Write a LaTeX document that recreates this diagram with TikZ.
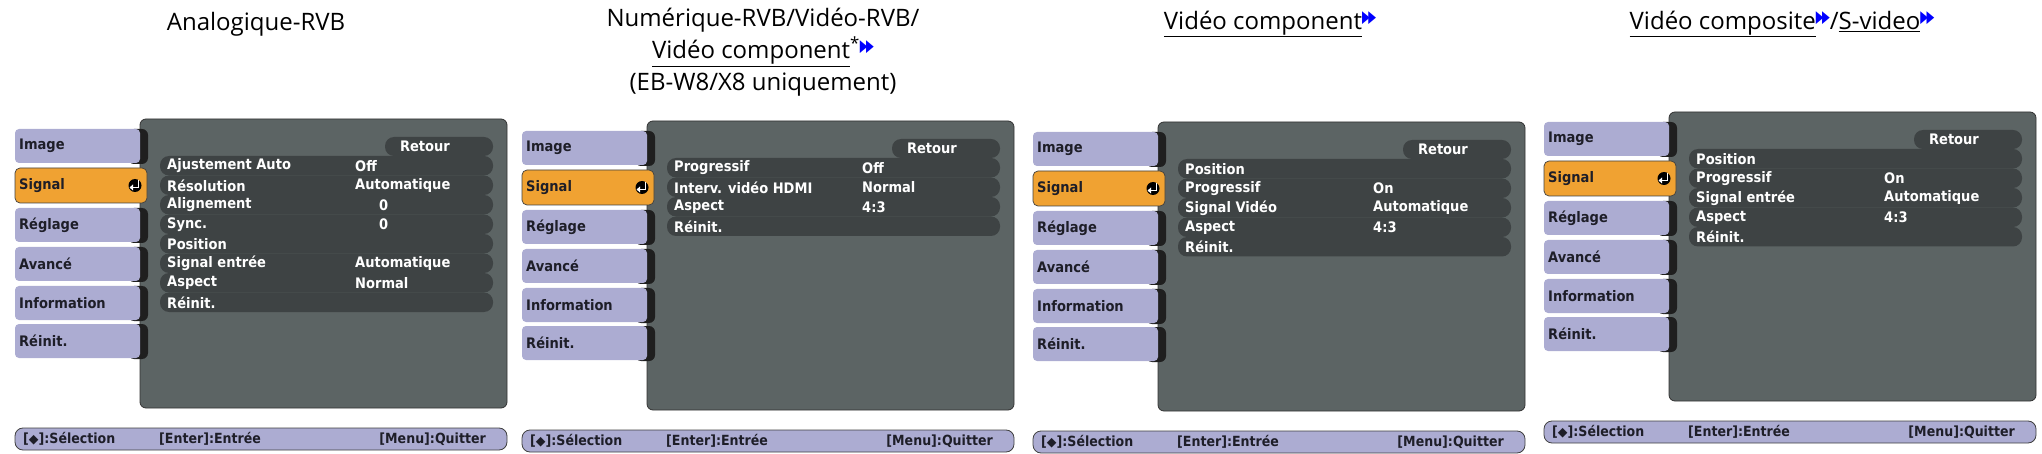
\documentclass[tikz,border=0pt]{standalone}
\usepackage{fontspec}
\setmainfont{DejaVu Sans}
\newfontfamily\titlefont{Open Sans}
\newfontfamily\osd{DejaVu Sans Condensed}
\newfontfamily\symf{DejaVu Sans}
\definecolor{tabc}{RGB}{172,172,210}
\definecolor{orangec}{RGB}{240,162,50}
\definecolor{panelc}{RGB}{92,100,100}
\definecolor{rowc}{RGB}{62,67,68}
\definecolor{tabtxt}{RGB}{30,30,40}
\newcommand\fw{{\color{blue}\symf\raisebox{0.55ex}{\scalebox{0.42}[0.7]{▶\kern-0.15em▶}}}}
\tikzset{
  ttl/.style={font=\titlefont\fontsize{24}{30}\selectfont, inner sep=0pt, align=center},
  osdtxt/.style={font=\osd\bfseries\fontsize{14.5}{16}\selectfont, inner sep=0pt, text=white},
  tabtext/.style={font=\osd\bfseries\fontsize{14.5}{16}\selectfont, inner sep=0pt, text=tabtxt, anchor=west},
  foottxt/.style={font=\osd\bfseries\fontsize{14}{16}\selectfont, inner sep=0pt, text=tabtxt},
}
% #1 prefix
\newcommand\basepanel[1]{%
  \fill[panelc, draw=black!80, line width=0.8pt, rounded corners=6] (140,119) rectangle (507,408);
  \foreach \yy/\lab/\k in {129/Image/a,208/Réglage/c,247/Avancé/d,286/Information/e,324/Réinit./f}{
    \fill[black!88, rounded corners=6] (128,\yy) rectangle (148,\yy+35);
    \fill[tabc, rounded corners=4] (15,\yy) rectangle (140,\yy+34);
    \node[tabtext] (#1-tab-\k) at (19,\yy+17) {\lab};
  }
  \fill[orangec, draw=black!75, line width=0.7pt, rounded corners=5] (15,168) rectangle (147,203);
  \node[tabtext] (#1-tab-b) at (19,185.5) {Signal};
  \fill[black] (135,185.5) circle (6.5);
  \draw[white, line width=1.6pt] (138.5,180.5) -- (138.5,187.5) -- (131,187.5);
  \fill[white] (129.5,187.5) -- (133,184.5) -- (133,190.5) -- cycle;
  \fill[rowc, rounded corners=9] (385,137) rectangle (493,156);
  \node[osdtxt] (#1-retour) at (425,146) {Retour};
  \draw[black!75, fill=tabc, line width=0.8pt, rounded corners=8] (15,428) rectangle (507,450);
  \node[foottxt, anchor=west] (#1-f1) at (23,439) {[{\symf\scalebox{0.9}{◆}}]:Sélection};
  \node[foottxt, anchor=west] (#1-f2) at (159,439) {[Enter]:Entrée};
  \node[foottxt, anchor=east] (#1-f3) at (486,439) {[Menu]:Quitter};
}
\newcommand\rowbg[1]{\fill[rowc, rounded corners=9] (160,{156+19.5*#1}) rectangle (493,{175.5+19.5*#1});}
\newcommand\mrow[5]{% prefix, index, label, value, value x
  \node[osdtxt, anchor=west] (#1-l#2) at (167,{166+19.5*#2}) {#3};
  \node[osdtxt, anchor=west] (#1-v#2) at (#5,{166+19.5*#2}) {#4};
}
\begin{document}
\begin{tikzpicture}[x=1pt,y=-1pt]
\useasboundingbox (0,0) rectangle (2042,454);
% titles
\node[ttl] (t1) at (256,24) {Analogique-RVB};
\node[ttl, anchor=north] (t2) at (763,8) {Numérique-RVB/Vidéo-RVB/\\[2pt]\underline{Vidéo component}\textsuperscript{*}\fw\\[2pt](EB-W8/X8 uniquement)};
\node[ttl] (t3) at (1270,24) {\underline{Vidéo component}\fw};
\node[ttl] (t4) at (1782,24) {\underline{Vidéo composite}\fw/\underline{S-video}\fw};
% panel 1
\begin{scope}
\basepanel{p1}
\foreach \i in {0,...,7}{\rowbg{\i}}
\mrow{p1}{0}{Ajustement Auto}{Off}{355}
\mrow{p1}{1}{Résolution}{Automatique}{355}
\mrow{p1}{2}{Alignement}{0}{379}
\mrow{p1}{3}{Sync.}{0}{379}
\mrow{p1}{4}{Position}{}{355}
\mrow{p1}{5}{Signal entrée}{Automatique}{355}
\mrow{p1}{6}{Aspect}{Normal}{355}
\mrow{p1}{7}{Réinit.}{}{355}
\end{scope}
% panel 2
\begin{scope}[shift={(507,2)}]
\basepanel{p2}
\foreach \i in {0,...,3}{\rowbg{\i}}
\mrow{p2}{0}{Progressif}{Off}{355}
\mrow{p2}{1}{Interv. vidéo HDMI}{Normal}{355}
\mrow{p2}{2}{Aspect}{4:3}{355}
\mrow{p2}{3}{Réinit.}{}{355}
\end{scope}
% panel 3
\begin{scope}[shift={(1018,3)}]
\basepanel{p3}
\foreach \i in {0,...,4}{\rowbg{\i}}
\mrow{p3}{0}{Position}{}{355}
\mrow{p3}{1}{Progressif}{On}{355}
\mrow{p3}{2}{Signal Vidéo}{Automatique}{355}
\mrow{p3}{3}{Aspect}{4:3}{355}
\mrow{p3}{4}{Réinit.}{}{355}
\end{scope}
% panel 4
\begin{scope}[shift={(1529,-7)}]
\basepanel{p4}
\foreach \i in {0,...,4}{\rowbg{\i}}
\mrow{p4}{0}{Position}{}{355}
\mrow{p4}{1}{Progressif}{On}{355}
\mrow{p4}{2}{Signal entrée}{Automatique}{355}
\mrow{p4}{3}{Aspect}{4:3}{355}
\mrow{p4}{4}{Réinit.}{}{355}
\end{scope}
\end{tikzpicture}
\end{document}
